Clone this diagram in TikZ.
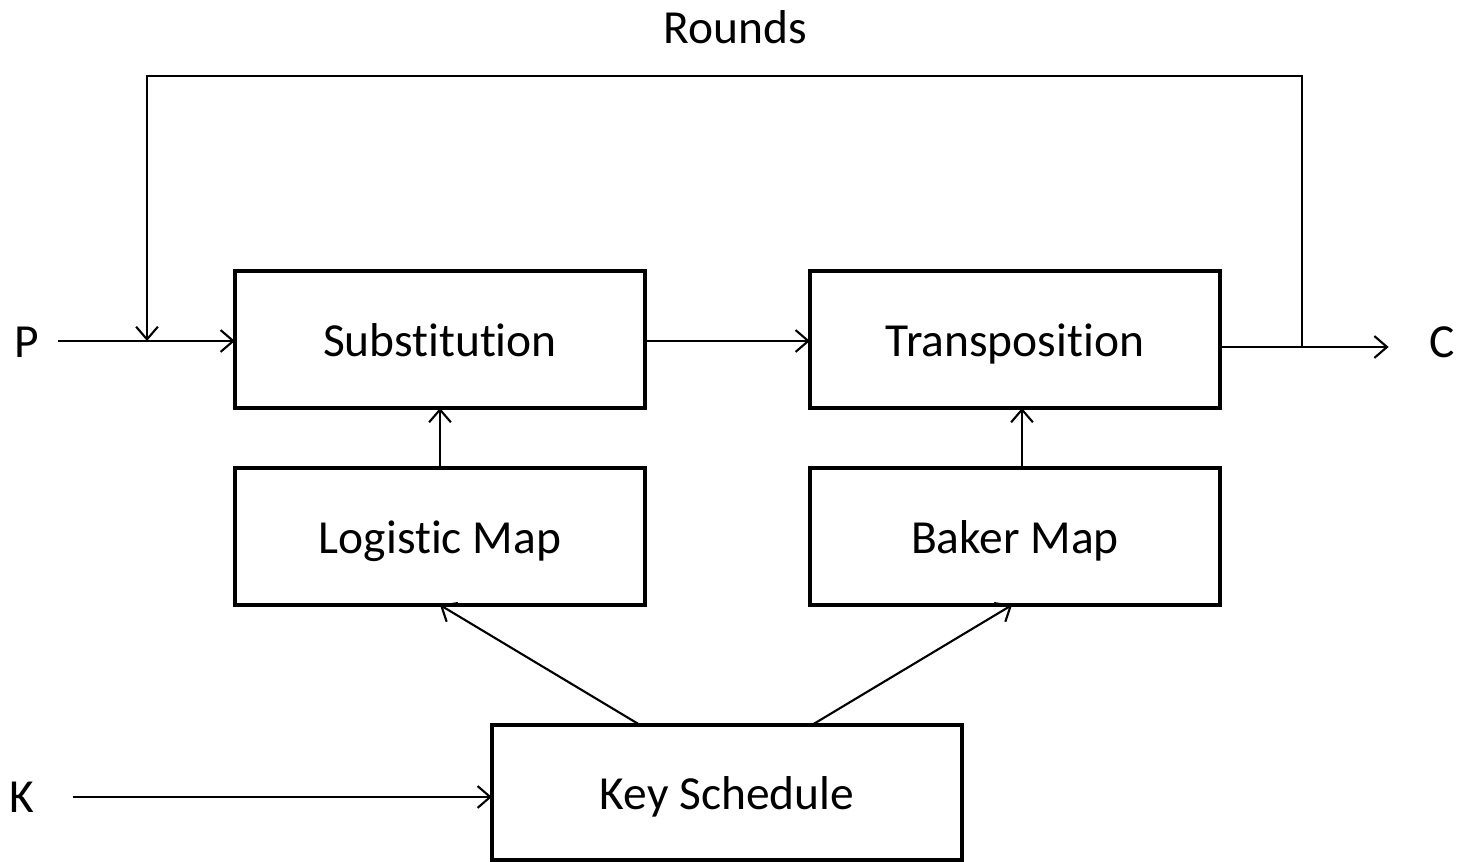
\documentclass[tikz,border=0pt]{standalone}
\usepackage{fontspec}
\setmainfont[Ligatures=NoCommon]{Carlito}
\usetikzlibrary{arrows.meta,calc}
\begin{document}
\begin{tikzpicture}[x=0.01cm,y=-0.01cm,
  font=\fontsize{13.5}{16}\selectfont,
  blk/.style={draw,line width=1.1pt,minimum width=4.1cm,minimum height=1.37cm,inner sep=0pt,outer sep=0pt,text height=1.1em,text depth=0.16em},
  lbl/.style={inner sep=0pt},
  arr/.style={line width=0.6pt,-{Straight Barb[length=3.6pt,width=6.2pt,line width=0.6pt]}},
  ln/.style={line width=0.6pt}]
\useasboundingbox (0,0) rectangle (1462,862);
\node[blk] (sub) at (440,339.5) {Substitution};
\node[blk] (trans) at (1015,339.5) {Transposition};
\node[blk] (log) at (440,536.5) {Logistic Map};
\node[blk] (bak) at (1015,536.5) {Baker Map};
\node[blk,minimum width=4.7cm,minimum height=1.35cm] (key) at (727,792.5) {Key Schedule};
\node[lbl] (P) at (27,342) {P};
\node[lbl] (C) at (1442,342) {C};
\node[lbl] (K) at (22,797) {K};
\node[lbl] (R) at (735,27) {Rounds};
\coordinate (in) at (147,341);
\coordinate (fb) at (1302,347);
% connectors
\draw[arr] ($(P.east)+(18,-1)$) -- ($(sub.west)+(0,1.5)$);
\draw[arr] ($(sub.east)+(0,1.5)$) -- ($(trans.west)+(0,1.5)$);
\draw[arr] ($(trans.east)+(0,7.5)$) -- ($(C.west)+(-40,5)$);
\draw[arr] (fb) -- ++(0,-271) -| (in);
\draw[arr] (log.north) -- (sub.south);
\draw[arr] ($(bak.north)+(7,0)$) -- ($(trans.south)+(7,0)$);
\draw[arr] ($(key.north)+(-87,0)$) -- (log.south);
\draw[arr] ($(key.north)+(85,0)$) -- ($(bak.south)+(-3,0)$);
\draw[arr] ($(K.east)+(38,0)$) -- (key.west |- K);
\end{tikzpicture}
\end{document}
